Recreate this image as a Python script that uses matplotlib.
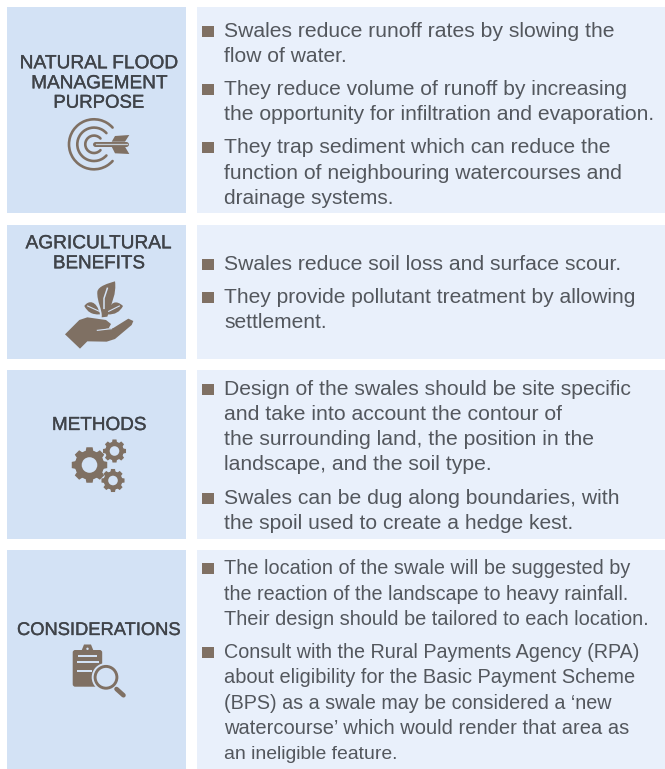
import numpy as np
import matplotlib
matplotlib.use("Agg")
import matplotlib.pyplot as plt
import matplotlib.patheffects as pe
from matplotlib.patches import Rectangle, Polygon, Circle, Arc, PathPatch, FancyBboxPatch
from matplotlib.path import Path

W, H = 665, 769
headings = ["NATURAL FLOOD", "MANAGEMENT", "PURPOSE", "AGRICULTURAL", "BENEFITS", "METHODS", "CONSIDERATIONS"]
heading_y = [68.3, 88.3, 107.7, 248.3, 268.3, 430, 635]
heading_w = [158, 136, 91, 146, 92, 94.3, 163.5]
rows = [(6.7, 213.4), (224.5, 359), (370, 539), (550, 769)]
body = [
 "Swales reduce runoff rates by slowing the", "flow of water.",
 "They reduce volume of runoff by increasing", "the opportunity for infiltration and evaporation.",
 "They trap sediment which can reduce the", "function of neighbouring watercourses and", "drainage systems.",
 "Swales reduce soil loss and surface scour.",
 "They provide pollutant treatment by allowing", "settlement.",
 "Design of the swales should be site specific", "and take into account the contour of", "the surrounding land, the position in the", "landscape, and the soil type.",
 "Swales can be dug along boundaries, with", "the spoil used to create a hedge kest.",
 "The location of the swale will be suggested by", "the reaction of the landscape to heavy rainfall.", "Their design should be tailored to each location.",
 "Consult with the Rural Payments Agency (RPA)", "about eligibility for the Basic Payment Scheme", "(BPS) as a swale may be considered a \u2018new", "watercourse\u2019 which would render that area as", "an ineligible feature.",
]
body_y = [36.8, 62, 95, 120, 153, 179, 204, 270, 303, 328, 395, 420, 445, 470.5, 504, 529, 574, 600, 625, 657.7, 683, 709, 734, 759]
body_end = [615, 346.7, 627.3, 655, 612.7, 625, 394, 622.3, 637.3, 327.7, 631.7, 564.3, 595.7, 492.7, 622.3, 575,
            630.7, 629.3, 650, 640, 636, 612.3, 630, 398.3]
bullet_bottom = [37.3, 95, 153, 270, 303, 395, 504, 574, 657.7]

BROWN = "#7f7063"; LEFT = "#d3e2f5"; RIGHT = "#e9f0fb"; HEAD = "#3f4349"; TXT = "#53575d"; PALE = "#c3ccd4"

plt.rcParams["font.family"] = "Liberation Sans"
fig = plt.figure(figsize=(W/100, H/100), dpi=100)
ax = fig.add_axes([0, 0, 1, 1]); ax.set_xlim(0, W); ax.set_ylim(H, 0); ax.axis("off")
rend = fig.canvas.get_renderer()

def fit(t, width):
    t.set_fontsize(t.get_fontsize()*width/t.get_window_extent(rend).width)

for y0, y1 in rows:
    ax.add_patch(Rectangle((6.7, y0), 179.5, y1-y0, fc=LEFT, ec="none"))
    ax.add_patch(Rectangle((197, y0), 468, y1-y0, fc=RIGHT, ec="none"))

for s, y, w in zip(headings, heading_y, heading_w):
    fit(ax.text(98.8, y, s, ha="center", va="baseline", fontsize=13.5, color=HEAD,
                path_effects=[pe.withStroke(linewidth=0.25, foreground=HEAD)]), w)
for s, y, e in zip(body, body_y, body_end):
    fit(ax.text(224.3, y, s, ha="left", va="baseline", fontsize=15, color=TXT), e-224.3)
for y in bullet_bottom:
    ax.add_patch(Rectangle((202.3, y-11), 11.6, 11, fc=BROWN, ec="none"))

# target icon
c = (94, 144.3)
for r in (25, 16.7, 8.7):
    ax.add_patch(Arc(c, 2*r, 2*r, theta1=42, theta2=318, color=BROWN, lw=1.9, capstyle="round"))
ax.plot([94.5, 126], [144.2, 144.2], color=BROWN, lw=3.6, solid_capstyle="round")
ax.plot([96, 127], [144.2, 144.2], color=PALE, lw=0.9)
ax.add_patch(Polygon([(115,136),(129.3,135),(125,141.7),(111.7,141.7)], fc=BROWN, ec="none"))
ax.add_patch(Polygon([(111.7,146.7),(125,146.7),(129.3,154),(115,153.3)], fc=BROWN, ec="none"))

# hand and plant icon (points measured in the 3x crop)
def xy(p):
    return (p[0]/3, 220+p[1]/3)
def curve(start, segs, fc=BROWN):
    v = [xy(start)]; k = [Path.MOVETO]
    for s in segs:
        v += [xy(q) for q in s]
        k += [Path.CURVE4]*3 if len(s) == 3 else [Path.LINETO]
    v.append(xy(start)); k.append(Path.CLOSEPOLY)
    ax.add_patch(PathPatch(Path(v, k), fc=fc, ec="none"))
P = lambda pts, fc=BROWN: ax.add_patch(Polygon([xy(q) for q in pts], fc=fc, ec="none"))
P([(195,343),(238,300),(262,292),(318,300),(333,312),(326,325),(296,331),(340,324),(385,296),(400,303),(395,315),(345,357),(320,365),(262,364),(240,386)])
ax.plot(*zip(xy((292,331)), xy((335,326))), color=LEFT, lw=0.8)
curve((345,184), [[(350,220),(335,250),(322,290)], [(305,292)], [(308,270),(290,245),(292,215)], [(295,198),(325,190),(345,184)]])
curve((253,258), [[(265,240),(290,240),(300,283)], [(275,285),(262,275),(253,258)]])
curve((369,258), [[(350,240),(330,242),(322,283)], [(345,285),(360,275),(369,258)]])
ax.plot(*zip(xy((322,205)), xy((312,235)), xy((312,265))), color=LEFT, lw=1.1)
ax.plot(*zip(xy((263,258)), xy((298,274))), color=LEFT, lw=0.8)
ax.plot(*zip(xy((358,258)), xy((326,274))), color=LEFT, lw=0.8)

# gears icon
def gear(cx, cy, ro, ri, hole, n=8):
    pts = []
    for i in range(n):
        a = 2*np.pi*i/n
        w = np.pi/n*0.55
        for da, r in ((-w*1.25, ri), (-w*0.8, ro), (w*0.8, ro), (w*1.25, ri)):
            pts.append((cx+r*np.cos(a+da), cy+r*np.sin(a+da)))
    ax.add_patch(Polygon(pts, fc=BROWN, ec="none"))
    ax.add_patch(Circle((cx, cy), ri, fc=BROWN, ec="none"))
    ax.add_patch(Circle((cx, cy), hole, fc=LEFT, ec="none"))
gear(89.5, 465, 18, 14.5, 7.8)
gear(114.5, 451, 11.7, 9.2, 4.8)
gear(113, 480.5, 11.7, 9.2, 4.8)

# clipboard icon
ax.add_patch(FancyBboxPatch((74.2, 651.5), 26.5, 33.7, boxstyle="round,pad=1.5,rounding_size=2.5", fc=BROWN, ec="none"))
ax.add_patch(Rectangle((78, 655.3), 19, 1.4, fc=LEFT, ec="none"))
ax.add_patch(Polygon([(80,654.5),(84,644.5),(91,644.5),(95,654.5)], fc=BROWN, ec="none"))
ax.add_patch(Circle((87.5, 648.8), 1.2, fc=LEFT, ec="none"))
ax.add_patch(Rectangle((77, 661.3), 21.5, 1.6, fc=LEFT, ec="none"))
ax.add_patch(Rectangle((77, 670), 15, 1.6, fc=LEFT, ec="none"))
ax.add_patch(Circle((106, 677.3), 14.3, fc=LEFT, ec="none"))
ax.add_patch(Circle((106, 677.3), 10.9, fc=LEFT, ec=BROWN, lw=2.1))
ax.plot([116.5, 123.5], [689, 695.3], color=BROWN, lw=3.3, solid_capstyle="round")

fig.savefig("out.png", dpi=100)
